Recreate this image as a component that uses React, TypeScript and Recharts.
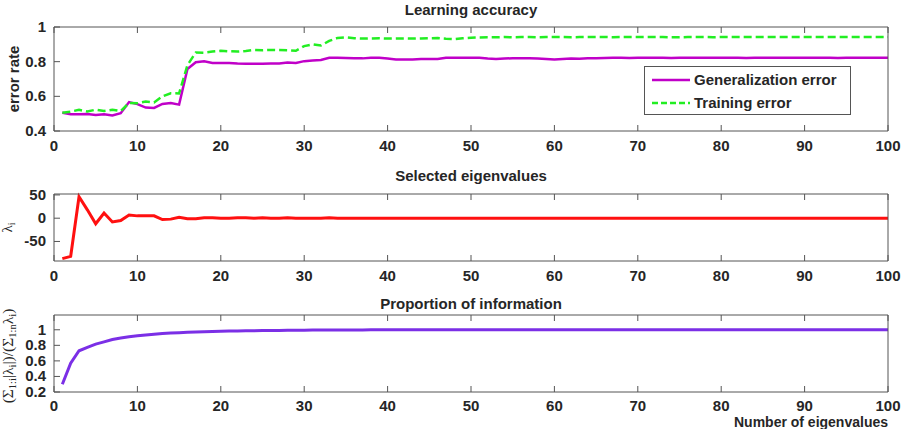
import { LineChart, Line, XAxis, YAxis } from 'recharts';

// eigenvalue index on the x axis
const eigenIndex = Array.from({ length: 100 }, (_, i) => i + 1);
const xTicks = [0, 10, 20, 30, 40, 50, 60, 70, 80, 90, 100];

const generalizationError = [
  0.505, 0.497, 0.497, 0.498, 0.493, 0.497, 0.49, 0.503, 0.567, 0.555,
  0.535, 0.533, 0.556, 0.562, 0.552, 0.758, 0.797, 0.802, 0.793, 0.792,
  0.793, 0.789, 0.788, 0.788, 0.788, 0.789, 0.79, 0.795, 0.793, 0.803,
  0.807, 0.81, 0.823, 0.823, 0.821, 0.82, 0.819, 0.822, 0.823, 0.818,
  0.812, 0.813, 0.813, 0.815, 0.815, 0.816, 0.822, 0.823, 0.823, 0.822,
  0.823, 0.818, 0.816, 0.818, 0.82, 0.819, 0.82, 0.818, 0.815, 0.813,
  0.816, 0.818, 0.817, 0.819, 0.82, 0.821, 0.822, 0.822, 0.821, 0.822,
  0.822, 0.823, 0.822, 0.821, 0.822, 0.823, 0.822, 0.822, 0.822, 0.823,
  0.822, 0.822, 0.821, 0.822, 0.822, 0.822, 0.823, 0.822, 0.822, 0.823,
  0.822, 0.822, 0.822, 0.821, 0.822, 0.822, 0.822, 0.822, 0.823, 0.822,
];

const trainingError = [
  0.505, 0.512, 0.522, 0.512, 0.523, 0.515, 0.522, 0.515, 0.562, 0.56,
  0.57, 0.565, 0.6, 0.618, 0.617, 0.78, 0.853, 0.852, 0.858, 0.863,
  0.86, 0.858, 0.862, 0.868, 0.866, 0.868, 0.867, 0.866, 0.863, 0.89,
  0.9, 0.893, 0.92, 0.937, 0.94, 0.935, 0.933, 0.934, 0.935, 0.933,
  0.934, 0.934, 0.933, 0.934, 0.935, 0.936, 0.932, 0.93, 0.935, 0.938,
  0.94, 0.941, 0.941, 0.942, 0.941, 0.942, 0.942, 0.941, 0.942, 0.942,
  0.942, 0.941, 0.942, 0.942, 0.942, 0.942, 0.941, 0.942, 0.942, 0.942,
  0.942, 0.942, 0.942, 0.941, 0.941, 0.942, 0.942, 0.942, 0.941, 0.942,
  0.942, 0.942, 0.942, 0.942, 0.942, 0.942, 0.942, 0.942, 0.942, 0.942,
  0.942, 0.942, 0.942, 0.942, 0.942, 0.942, 0.942, 0.942, 0.942, 0.942,
];

const selectedEigenvalues = [
  -87, -82, 46, 18, -12, 11, -8, -5, 7, 5,
  5, 5, -3, -2, 2, -1, -1, 1, 1, 0,
  0, 1, 1, 0, 1, 0, 0, 1, 0, 0,
  0, 0, 1, 0, 0, 0, 0, 0, 0, 0,
  0, 0, 0, 0, 0, 0, 0, 0, 0, 0,
  0, 0, 0, 0, 0, 0, 0, 0, 0, 0,
  0, 0, 0, 0, 0, 0, 0, 0, 0, 0,
  0, 0, 0, 0, 0, 0, 0, 0, 0, 0,
  0, 0, 0, 0, 0, 0, 0, 0, 0, 0,
  0, 0, 0, 0, 0, 0, 0, 0, 0, 0,
];

const proportionInfo = [
  0.3, 0.57, 0.73, 0.775, 0.815, 0.845, 0.875, 0.895, 0.91, 0.922,
  0.932, 0.942, 0.952, 0.958, 0.963, 0.967, 0.971, 0.975, 0.978, 0.981,
  0.983, 0.985, 0.987, 0.988, 0.99, 0.991, 0.992, 0.993, 0.994, 0.995,
  0.996, 0.996, 0.997, 0.997, 0.998, 0.998, 0.998, 0.999, 0.999, 0.999,
  1, 1, 1, 1, 1, 1, 1, 1, 1, 1,
  1, 1, 1, 1, 1, 1, 1, 1, 1, 1,
  1, 1, 1, 1, 1, 1, 1, 1, 1, 1,
  1, 1, 1, 1, 1, 1, 1, 1, 1, 1,
  1, 1, 1, 1, 1, 1, 1, 1, 1, 1,
  1, 1, 1, 1, 1, 1, 1, 1, 1, 1,
];

const accuracyData = eigenIndex.map((n, i) => ({
  n,
  gen: generalizationError[i],
  train: trainingError[i],
}));
const eigenData = eigenIndex.map((n, i) => ({ n, lambda: selectedEigenvalues[i] }));
const propData = eigenIndex.map((n, i) => ({ n, prop: proportionInfo[i] }));

const FRAME = '#555';
const TEXT = '#262626';
const FONT = '"Liberation Sans", Arial, sans-serif';
const TICK = 6;

// ticks are drawn by hand so they point inward like matlab's
const BottomTick = ({ x, y, payload, labelOffset = 20 }: any) => (
  <g>
    <line x1={x} x2={x} y1={y} y2={y - TICK} stroke={FRAME} />
    <text x={x} y={y + labelOffset} textAnchor="middle" fontSize={15} fontWeight="bold" fill={TEXT} fontFamily={FONT}>
      {payload.value}
    </text>
  </g>
);
const TopTick = ({ x, y }: any) => <line x1={x} x2={x} y1={y} y2={y + TICK} stroke={FRAME} />;
const LeftTick = ({ x, y, payload }: any) => (
  <g>
    <line x1={x} x2={x + TICK} y1={y} y2={y} stroke={FRAME} />
    <text x={x - 8} y={y + 5} textAnchor="end" fontSize={15} fontWeight="bold" fill={TEXT} fontFamily={FONT}>
      {payload.value}
    </text>
  </g>
);
const RightTick = ({ x, y }: any) => <line x1={x} x2={x - TICK} y1={y} y2={y} stroke={FRAME} />;

// one subplot: boxed on all four sides
function Panel({ top, height, marginTop, axisHeight, labelOffset, data, yDomain, yTicks, children }: any) {
  return (
    <div style={{ position: 'absolute', left: 0, top }}>
      <LineChart width={906} height={height} data={data} margin={{ top: marginTop - 1, right: 17, bottom: 0, left: 0 }}>
        <XAxis
          dataKey="n"
          type="number"
          domain={[0, 100]}
          ticks={xTicks}
          interval={0}
          height={axisHeight}
          tickSize={0}
          tickMargin={0}
          axisLine={{ stroke: FRAME }}
          tickLine={false}
          tick={<BottomTick labelOffset={labelOffset} />}
        />
        <XAxis
          xAxisId="top"
          orientation="top"
          dataKey="n"
          type="number"
          domain={[0, 100]}
          ticks={xTicks}
          interval={0}
          height={1}
          tickSize={0}
          tickMargin={0}
          axisLine={{ stroke: FRAME }}
          tickLine={false}
          tick={<TopTick />}
        />
        <YAxis
          type="number"
          domain={yDomain}
          ticks={yTicks}
          interval={0}
          width={54}
          tickSize={0}
          tickMargin={0}
          axisLine={{ stroke: FRAME }}
          tickLine={false}
          tick={<LeftTick />}
        />
        <YAxis
          yAxisId="right"
          orientation="right"
          type="number"
          domain={yDomain}
          ticks={yTicks}
          interval={0}
          width={1}
          tickSize={0}
          tickMargin={0}
          axisLine={{ stroke: FRAME }}
          tickLine={false}
          tick={<RightTick />}
        />
        {children}
      </LineChart>
    </div>
  );
}

export default function App() {
  return (
    <div style={{ position: 'absolute', left: 0, top: 0, width: 906, height: 429, background: '#fff', overflow: 'hidden' }}>
      <Panel top={0} height={160} marginTop={27} axisHeight={29} labelOffset={20} data={accuracyData} yDomain={[0.4, 1]} yTicks={[0.4, 0.6, 0.8, 1]}>
        <Line dataKey="gen" type="linear" stroke="#c000c8" strokeWidth={2.5} dot={false} isAnimationActive={false} />
        <Line dataKey="train" type="linear" stroke="#22ee22" strokeWidth={2.5} strokeDasharray="8 4" dot={false} isAnimationActive={false} />
      </Panel>
      <Panel top={160} height={125} marginTop={34} axisHeight={24} labelOffset={20} data={eigenData} yDomain={[-92, 52]} yTicks={[-50, 0, 50]}>
        <Line dataKey="lambda" type="linear" stroke="#ff1010" strokeWidth={3} dot={false} isAnimationActive={false} />
      </Panel>
      <Panel top={285} height={144} marginTop={30} axisHeight={37} labelOffset={19} data={propData} yDomain={[0.2, 1.19]} yTicks={[0.2, 0.4, 0.6, 0.8, 1]}>
        <Line dataKey="prop" type="linear" stroke="#7b2fe6" strokeWidth={3} dot={false} isAnimationActive={false} />
      </Panel>

      <svg width={906} height={429} style={{ position: 'absolute', left: 0, top: 0, pointerEvents: 'none' }}>
        <g fontFamily={FONT} fontWeight="bold" fontSize={15} fill={TEXT}>
          <text x={471} y={15} textAnchor="middle">Learning accuracy</text>
          <text x={471} y={181} textAnchor="middle">Selected eigenvalues</text>
          <text x={471} y={309} textAnchor="middle">Proportion of information</text>
          <text transform="translate(18.5,79) rotate(-90)" textAnchor="middle">error rate</text>
        </g>
        <text x={811} y={426.5} textAnchor="middle" fontFamily={FONT} fontWeight="bold" fontSize={14} fill={TEXT}>
          Number of eigenvalues
        </text>
        <text transform="translate(12,227.5) rotate(-90)" textAnchor="middle" fontFamily='"Liberation Serif", serif' fontSize={15} fill={TEXT}>
          λ<tspan fontSize={10} dy={3}>i</tspan>
        </text>
        <text transform="translate(13,356) rotate(-90)" textAnchor="middle" fontFamily='"Liberation Serif", serif' fontSize={15.5} fill={TEXT}>
          (Σ<tspan fontSize={10.5} dy={3}>1:i</tspan>
          <tspan dy={-3}>|λ</tspan>
          <tspan fontSize={10.5} dy={3}>i</tspan>
          <tspan dy={-3}>|)/(Σ</tspan>
          <tspan fontSize={10.5} dy={3}>1:n</tspan>
          <tspan dy={-3}>λ</tspan>
          <tspan fontSize={10.5} dy={3}>i</tspan>
          <tspan dy={-3}>)</tspan>
        </text>

        {/* legend box */}
        <rect x={644.5} y={66.5} width={206} height={48} fill="#fff" stroke={FRAME} />
        <line x1={652} x2={690} y1={80} y2={80} stroke="#c000c8" strokeWidth={2.5} />
        <line x1={652} x2={690} y1={103} y2={103} stroke="#22ee22" strokeWidth={2.5} strokeDasharray="6 3" />
        <g fontFamily={FONT} fontWeight="bold" fontSize={15} fill={TEXT}>
          <text x={694} y={85}>Generalization error</text>
          <text x={694} y={108}>Training error</text>
        </g>
      </svg>
    </div>
  );
}
